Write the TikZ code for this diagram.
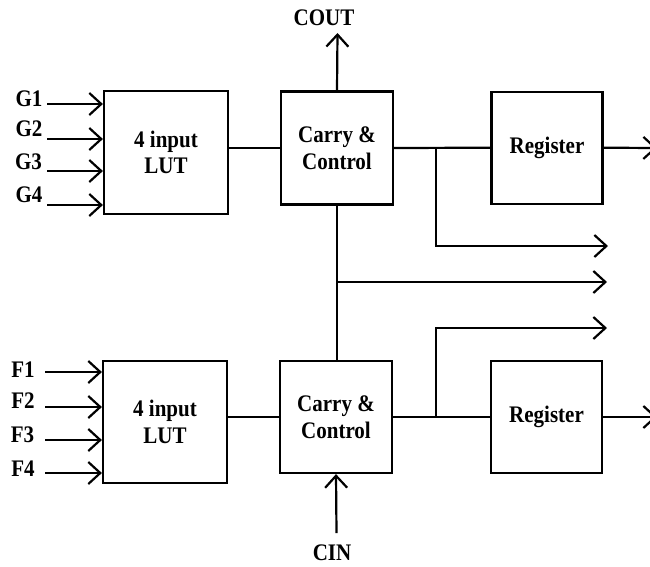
\documentclass[tikz,border=0pt]{standalone}
\usepackage{fontspec}
\usepackage{graphicx}
\setmainfont{Liberation Serif}
\usetikzlibrary{arrows.meta}
\newcommand\stx[1]{\scalebox{1}[1.13]{#1}}
\begin{document}
\begin{tikzpicture}[x=1pt,y=-1pt,
  line width=2.2pt,
  txt/.style={font=\fontsize{21}{26.5}\selectfont\bfseries, align=center, inner sep=0pt},
  blk/.style={draw, txt, minimum width=#1, minimum height=112pt},
  arr/.style={-{Straight Barb[length=12pt,width=22pt]}},
  lbl/.style={txt}]
\useasboundingbox (0,0) rectangle (650,566);

% blocks
\node[blk=124pt, minimum height=123pt] (lutG) at (166,152.5) {\stx{4 input}\\\stx{LUT}};
\node[blk=112pt, minimum height=113pt] (carryG) at (337,148) {\stx{Carry \&}\\\stx{Control}};
\node[blk=111pt] (regG) at (547,147.7) {\stx{Register}};
\node[blk=124pt, minimum height=122pt] (lutF) at (165,422) {\stx{4 input}\\\stx{LUT}};
\node[blk=112pt] (carryF) at (336,417) {\stx{Carry \&}\\\stx{Control}};
\node[blk=111pt] (regF) at (546.5,417) {\stx{Register}};

% labels
\node[lbl] (G1) at (29,99) {\stx{G1}};
\node[lbl] (G2) at (29,129) {\stx{G2}};
\node[lbl] (G3) at (28.5,162) {\stx{G3}};
\node[lbl] (G4) at (29,195) {\stx{G4}};
\node[lbl] (F1) at (23,370) {\stx{F1}};
\node[lbl] (F2) at (23,401) {\stx{F2}};
\node[lbl] (F3) at (22.5,434.5) {\stx{F3}};
\node[lbl] (F4) at (23,469) {\stx{F4}};
\node[lbl] (cout) at (324,18) {\stx{COUT}};
\node[lbl] (cin) at (332,553) {\stx{CIN}};

% input start points
\coordinate (g1s) at (47,104);
\coordinate (g2s) at (47,139);
\coordinate (g3s) at (47,171);
\coordinate (g4s) at (47,205);
\coordinate (f1s) at (45,372);
\coordinate (f2s) at (45,407);
\coordinate (f3s) at (45,440);
\coordinate (f4s) at (45,473);
\foreach \s in {g1s,g2s,g3s,g4s} \draw[arr] (\s) -- (\s -| lutG.west);
\foreach \s in {f1s,f2s,f3s,f4s} \draw[arr] (\s) -- (\s -| lutF.west);

% top row
\draw (carryG.west -| lutG.east) -- (carryG.west);
\draw (carryG.east) -- (regG.west);
\coordinate (bG) at (436,148);
\coordinate (oG1) at (608,246);
\draw[arr] (bG) |- (oG1);
\coordinate (regGout) at (657,148);
\draw[arr] (regG.east) -- (regGout);
\coordinate (coutTip) at (337.5,33);
\draw[arr] (carryG.north) -- (coutTip);

% vertical between carries
\draw (carryG.south) -- (carryG.south |- carryF.north);
\coordinate (jn) at (337,282);
\coordinate (oMid) at (607,282);
\draw[arr] (jn) -- (oMid);

% bottom row
\draw (carryF.west -| lutF.east) -- (carryF.west);
\draw (carryF.east) -- (regF.west);
\coordinate (bF) at (436,417);
\coordinate (oF1) at (607,328);
\draw[arr] (bF) |- (oF1);
\coordinate (regFout) at (657,417);
\draw[arr] (regF.east) -- (regFout);
\coordinate (cinStart) at (336.5,533);
\draw[arr] (cinStart) -- (carryF.south);
\end{tikzpicture}
\end{document}
